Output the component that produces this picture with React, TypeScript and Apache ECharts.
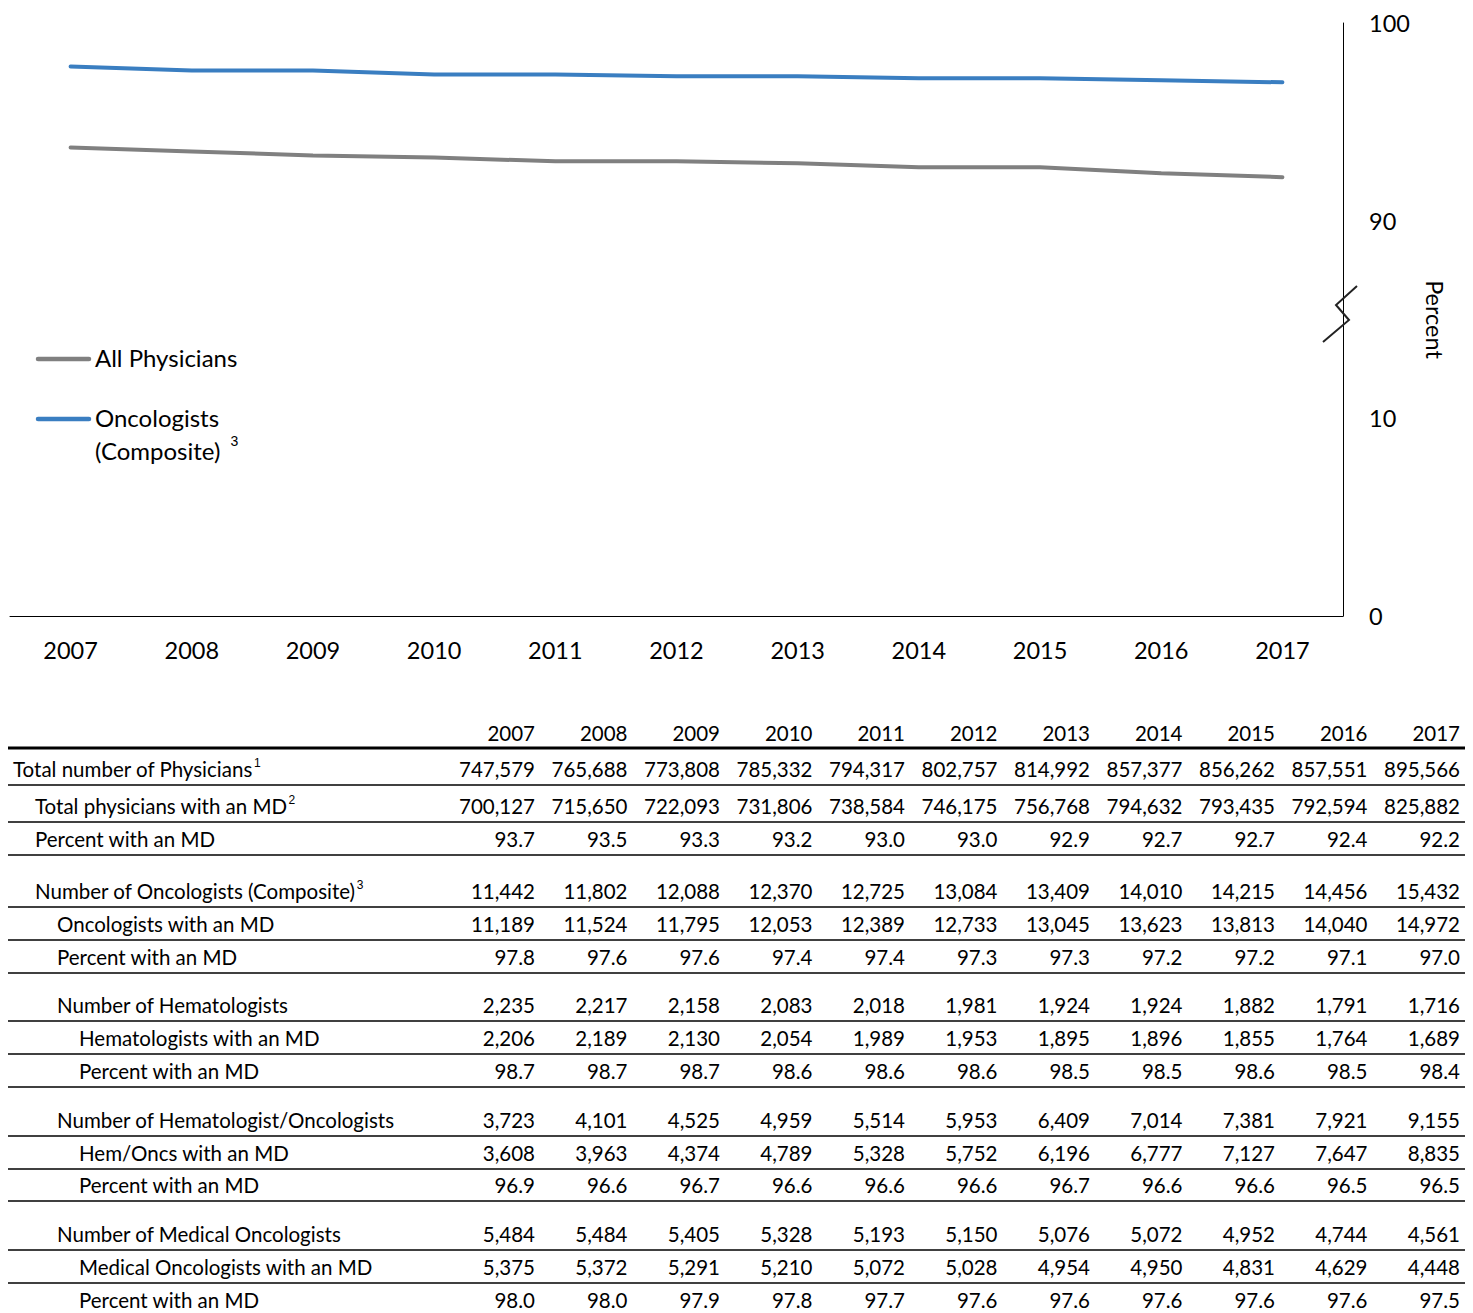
import React, { useEffect, useRef } from "react";
import * as echarts from "echarts";

// Years shown on the chart axis and as table columns
const years = ["2007", "2008", "2009", "2010", "2011", "2012", "2013", "2014", "2015", "2016", "2017"];

// Percent of physicians holding an MD
const allPhysiciansPct = [93.7, 93.5, 93.3, 93.2, 93.0, 93.0, 92.9, 92.7, 92.7, 92.4, 92.2];
const oncologistsPct = [97.8, 97.6, 97.6, 97.4, 97.4, 97.3, 97.3, 97.2, 97.2, 97.1, 97.0];

// Broken y axis: visible tick values (0–10, break, 90–100)
const yTickValues = [0, 10, 90, 100];

// Table rows
const totalPhysicians = ["747,579", "765,688", "773,808", "785,332", "794,317", "802,757", "814,992", "857,377", "856,262", "857,551", "895,566"];
const totalPhysiciansMD = ["700,127", "715,650", "722,093", "731,806", "738,584", "746,175", "756,768", "794,632", "793,435", "792,594", "825,882"];
const oncologists = ["11,442", "11,802", "12,088", "12,370", "12,725", "13,084", "13,409", "14,010", "14,215", "14,456", "15,432"];
const oncologistsMD = ["11,189", "11,524", "11,795", "12,053", "12,389", "12,733", "13,045", "13,623", "13,813", "14,040", "14,972"];
const hematologists = ["2,235", "2,217", "2,158", "2,083", "2,018", "1,981", "1,924", "1,924", "1,882", "1,791", "1,716"];
const hematologistsMD = ["2,206", "2,189", "2,130", "2,054", "1,989", "1,953", "1,895", "1,896", "1,855", "1,764", "1,689"];
const hematologistsPct = [98.7, 98.7, 98.7, 98.6, 98.6, 98.6, 98.5, 98.5, 98.6, 98.5, 98.4];
const hemOncs = ["3,723", "4,101", "4,525", "4,959", "5,514", "5,953", "6,409", "7,014", "7,381", "7,921", "9,155"];
const hemOncsMD = ["3,608", "3,963", "4,374", "4,789", "5,328", "5,752", "6,196", "6,777", "7,127", "7,647", "8,835"];
const hemOncsPct = [96.9, 96.6, 96.7, 96.6, 96.6, 96.6, 96.7, 96.6, 96.6, 96.5, 96.5];
const medOncs = ["5,484", "5,484", "5,405", "5,328", "5,193", "5,150", "5,076", "5,072", "4,952", "4,744", "4,561"];
const medOncsMD = ["5,375", "5,372", "5,291", "5,210", "5,072", "5,028", "4,954", "4,950", "4,831", "4,629", "4,448"];
const medOncsPct = [98.0, 98.0, 97.9, 97.8, 97.7, 97.6, 97.6, 97.6, 97.6, 97.6, 97.5];

type Row = { label: string; sup?: string; level: number; values: (string | number)[] };

const pct = (arr: number[]) => arr.map((v) => v.toFixed(1));

const rows: Row[] = [
  { label: "Total number of Physicians", sup: "1", level: 0, values: totalPhysicians },
  { label: "Total physicians with an MD", sup: "2", level: 1, values: totalPhysiciansMD },
  { label: "Percent with an MD", level: 1, values: pct(allPhysiciansPct) },
  { label: "Number of Oncologists (Composite)", sup: "3", level: 1, values: oncologists },
  { label: "Oncologists with an MD", level: 2, values: oncologistsMD },
  { label: "Percent with an MD", level: 2, values: pct(oncologistsPct) },
  { label: "Number of Hematologists", level: 2, values: hematologists },
  { label: "Hematologists with an MD", level: 3, values: hematologistsMD },
  { label: "Percent with an MD", level: 3, values: pct(hematologistsPct) },
  { label: "Number of Hematologist/Oncologists", level: 2, values: hemOncs },
  { label: "Hem/Oncs with an MD", level: 3, values: hemOncsMD },
  { label: "Percent with an MD", level: 3, values: pct(hemOncsPct) },
  { label: "Number of Medical Oncologists", level: 2, values: medOncs },
  { label: "Medical Oncologists with an MD", level: 3, values: medOncsMD },
  { label: "Percent with an MD", level: 3, values: pct(medOncsPct) },
];

// Height of each table row in pixels (group starts carry extra space above)
const rowHeights = [37, 37, 33, 52, 33, 33, 48, 33, 33, 49, 33, 32, 49, 33, 33];

const FONT = "Lato, 'Open Sans', sans-serif";
const GRAY = "#808080";
const BLUE = "#3a7ec1";

// Map a percent onto the broken axis: each tick interval gets one unit
function toBroken(v: number): number {
  if (v <= 10) return v / 10;
  if (v >= 90) return 2 + (v - 90) / 10;
  return 1 + (v - 10) / 80;
}

export default function App() {
  const ref = useRef<HTMLDivElement>(null);

  useEffect(() => {
    document.body.style.margin = "0";
    const chart = echarts.init(ref.current!, undefined, { renderer: "svg" });

    const graphics: any[] = [];

    // axis break marker
    graphics.push({
      type: "polyline",
      shape: { points: [[1323, 342], [1349, 320], [1336, 305], [1357, 286]] },
      style: { stroke: "#222", lineWidth: 2, fill: null },
      z: 10,
    });

    // legend
    const legendItems = [
      { color: GRAY, y: 359, text: "All Physicians" },
      { color: BLUE, y: 419, text: "Oncologists\n(Composite) {sup|3}" },
    ];
    legendItems.forEach((it) => {
      graphics.push({
        type: "line",
        shape: { x1: 38, y1: it.y, x2: 89, y2: it.y },
        style: { stroke: it.color, lineWidth: 4.5, lineCap: "round" },
      });
      graphics.push({
        type: "text",
        x: 95,
        y: it.y - 18,
        style: {
          text: it.text,
          fontFamily: FONT,
          fontSize: 24,
          fill: "#000",
          lineHeight: 33,
          verticalAlign: "top",
          rich: { sup: { fontSize: 14, verticalAlign: "top", lineHeight: 33, padding: [0, 0, 14, 4] } },
        },
      });
    });

    // table layout
    const colRight = (i: number) => 535 + 92.5 * i;
    const left = 8;
    const right = 1465;
    const tableFont = 20.5;

    years.forEach((y, i) => {
      graphics.push({
        type: "text",
        x: colRight(i),
        y: 733,
        style: { text: y, fontFamily: FONT, fontSize: tableFont, fill: "#000", align: "right", verticalAlign: "middle" },
      });
    });
    graphics.push({
      type: "line",
      shape: { x1: left, y1: 748, x2: right, y2: 748 },
      style: { stroke: "#000", lineWidth: 3 },
    });

    let bottom = 748;
    rows.forEach((row, ri) => {
      bottom += rowHeights[ri];
      const cy = bottom - 16;
      const x = 13 + row.level * 22;
      graphics.push({
        type: "text",
        x,
        y: cy,
        style: {
          text: row.sup ? `${row.label}{sup|${row.sup}}` : row.label,
          fontFamily: FONT,
          fontSize: tableFont,
          fill: "#000",
          verticalAlign: "middle",
          rich: { sup: { fontSize: 12, padding: [0, 0, 12, 1], verticalAlign: "bottom" } },
        },
      });
      row.values.forEach((v, i) => {
        graphics.push({
          type: "text",
          x: colRight(i),
          y: cy,
          style: { text: String(v), fontFamily: FONT, fontSize: tableFont, fill: "#000", align: "right", verticalAlign: "middle" },
        });
      });
      if (ri < rows.length - 1) {
        graphics.push({
          type: "line",
          shape: { x1: left, y1: bottom, x2: right, y2: bottom },
          style: { stroke: "#000", lineWidth: 1.3 },
        });
      }
    });

    chart.setOption({
      animation: false,
      backgroundColor: "#fff",
      textStyle: { fontFamily: FONT },
      grid: { left: 10, right: 130, top: 23, bottom: 1313 - 616, containLabel: false },
      xAxis: {
        type: "category",
        data: years,
        boundaryGap: true,
        axisLine: { lineStyle: { color: "#000", width: 1 } },
        axisTick: { show: false },
        axisLabel: { color: "#000", fontSize: 23.5, fontFamily: FONT, margin: 22 },
      },
      yAxis: {
        type: "value",
        position: "right",
        min: 0,
        max: 3,
        interval: 1,
        name: "Percent",
        nameLocation: "middle",
        nameRotate: -90,
        nameGap: 80,
        nameTextStyle: { color: "#000", fontSize: 23.5, fontFamily: FONT },
        axisLine: { show: true, lineStyle: { color: "#000", width: 1 } },
        axisTick: { show: false },
        splitLine: { show: false },
        axisLabel: {
          color: "#000",
          fontSize: 23.5,
          fontFamily: FONT,
          margin: 26,
          formatter: (v: number) => String(yTickValues[Math.round(v)] ?? ""),
        },
      },
      series: [
        {
          name: "All Physicians",
          type: "line",
          data: allPhysiciansPct.map(toBroken),
          symbol: "none",
          lineStyle: { color: GRAY, width: 4, cap: "round" },
          itemStyle: { color: GRAY },
        },
        {
          name: "Oncologists (Composite)",
          type: "line",
          data: oncologistsPct.map(toBroken),
          symbol: "none",
          lineStyle: { color: BLUE, width: 4, cap: "round" },
          itemStyle: { color: BLUE },
        },
      ],
      graphic: graphics,
    });

    return () => chart.dispose();
  }, []);

  return <div ref={ref} style={{ width: 1473, height: 1313 }} />;
}
